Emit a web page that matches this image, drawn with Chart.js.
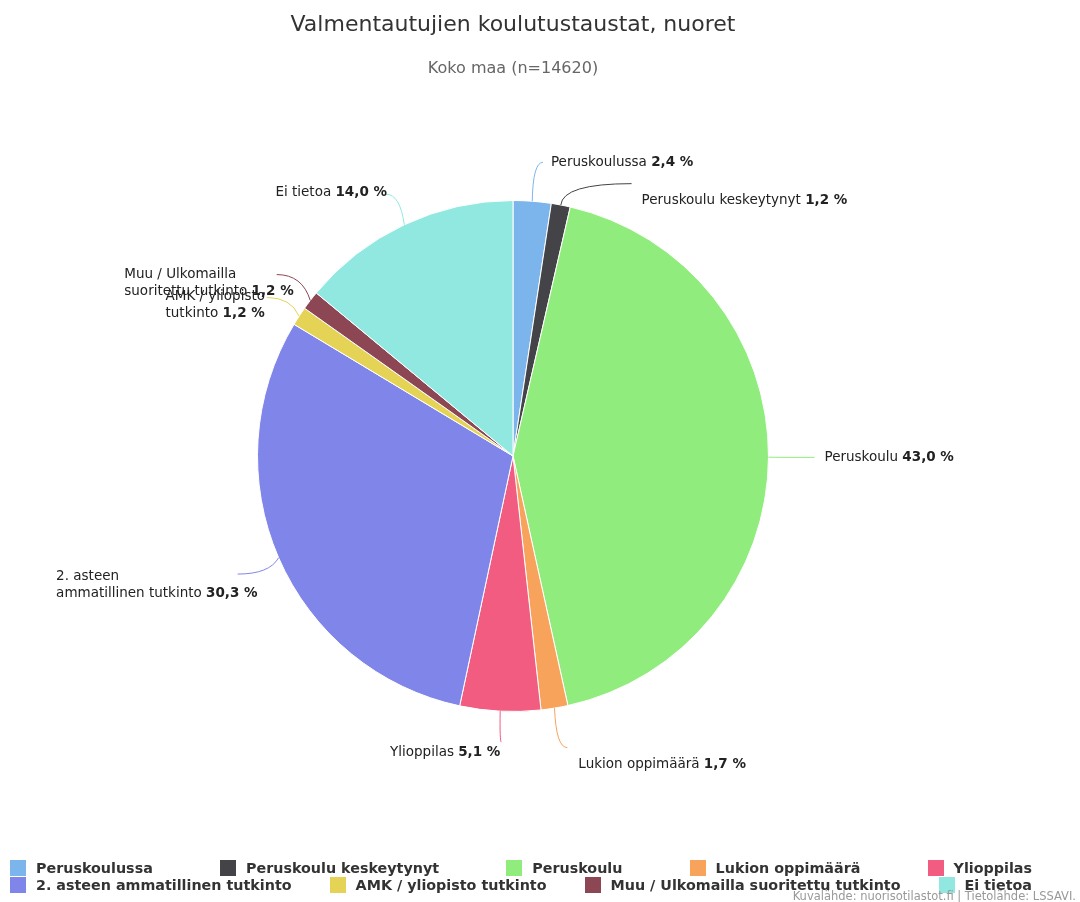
<!DOCTYPE html>
<html>
<head>
<meta charset="utf-8">
<script src="https://cdn.jsdelivr.net/npm/chart.js@4.4.1/dist/chart.umd.min.js"></script>
<style>
  body { margin: 0; background: #fff; font-family: "Lucida Grande", "DejaVu Sans", sans-serif; }
  #wrap { position: relative; width: 1080px; height: 902px; overflow: hidden; }
  #chart { position: absolute; left: 0; top: 0; }
  .title { position: absolute; left: 0; width: 1026px; text-align: center; white-space: nowrap; }
  #title { top: 11px; font-size: 22px; color: #333; }
  #subtitle { top: 58px; font-size: 16px; color: #666; }
  .legend-row { position: absolute; left: 10px; width: 1022px; display: flex; justify-content: space-between; }
  .legend-item { display: flex; align-items: center; font-size: 14.3px; font-weight: bold; color: #333; white-space: nowrap; height: 16px; }
  .legend-box { width: 16px; height: 16px; margin-right: 10px; }
  #credits { position: absolute; right: 4px; top: 889px; font-size: 11.5px; color: #999; white-space: nowrap; }
</style>
</head>
<body>
<div id="wrap">
  <canvas id="chart" width="1080" height="902"></canvas>
  <div class="title" id="title">Valmentautujien koulutustaustat, nuoret</div>
  <div class="title" id="subtitle">Koko maa (n=14620)</div>
  <div class="legend-row" id="legendRow1" style="top:860px"></div>
  <div class="legend-row" id="legendRow2" style="top:877px"></div>
  <div id="credits">Kuvalähde: nuorisotilastot.fi | Tietolähde: LSSAVI.</div>
</div>
<script>
const categories = [
  "Peruskoulussa",
  "Peruskoulu keskeytynyt",
  "Peruskoulu",
  "Lukion oppimäärä",
  "Ylioppilas",
  "2. asteen ammatillinen tutkinto",
  "AMK / yliopisto tutkinto",
  "Muu / Ulkomailla suoritettu tutkinto",
  "Ei tietoa"
];
const shares = [2.4, 1.2, 43.0, 1.7, 5.1, 30.3, 1.2, 1.2, 14.0];

const sliceColors = ["#7cb5ec", "#434348", "#90ed7d", "#f7a35c", "#f15c80",
                     "#8085e9", "#e4d354", "#8d4653", "#91e8e1"];

const FONT = '"Lucida Grande", "DejaVu Sans", sans-serif';

function fmt(v) {
  return v.toFixed(1).replace(".", ",") + " %";
}

// Legend (two rows like the original)
function buildLegend() {
  const rows = [document.getElementById("legendRow1"), document.getElementById("legendRow2")];
  categories.forEach((name, i) => {
    const item = document.createElement("div");
    item.className = "legend-item";
    const box = document.createElement("span");
    box.className = "legend-box";
    box.style.background = sliceColors[i];
    item.appendChild(box);
    item.appendChild(document.createTextNode(name));
    rows[i < 5 ? 0 : 1].appendChild(item);
  });
}

// Outside data labels with connector lines
const pieLabels = {
  id: "pieLabels",
  afterDatasetsDraw(chart, args, opts) {
    const ctx = chart.ctx;
    const meta = chart.getDatasetMeta(0);
    meta.data.forEach((arc, i) => {
      const p = arc.getProps(["x", "y", "startAngle", "endAngle", "outerRadius"], true);
      const mid = (p.startAngle + p.endAngle) / 2;
      const cos = Math.cos(mid), sin = Math.sin(mid);
      const r = p.outerRadius;
      const right = cos >= 0;
      const lay = opts.layout[i];
      const R = r + opts.distance;
      const ex = p.x + r * cos, ey = p.y + r * sin;
      const cx = p.x + (r + 10) * cos;
      const endX = p.x + R * cos + lay[0];
      const endY = p.y + R * sin + lay[1];

      ctx.save();
      ctx.strokeStyle = sliceColors[i];
      ctx.lineWidth = 1;
      ctx.beginPath();
      ctx.moveTo(ex, ey);
      ctx.quadraticCurveTo(cx, endY, endX, endY);
      ctx.stroke();

      // split name into lines
      const words = categories[i].split(" ");
      const brk = opts.wrapAfter[i];
      const lines = brk ? [words.slice(0, brk).join(" "), words.slice(brk).join(" ")] : [categories[i]];
      const value = fmt(shares[i]);
      const normal = "13.5px " + FONT;
      const bold = "bold 13.5px " + FONT;
      const widths = lines.map((ln, k) => {
        ctx.font = normal;
        let w = ctx.measureText(ln).width;
        if (k === lines.length - 1) {
          w += ctx.measureText(" ").width;
          ctx.font = bold;
          w += ctx.measureText(value).width;
        }
        return w;
      });
      const blockW = Math.max(...widths);
      const tx = endX + lay[2];
      const ty = endY + lay[3];
      const left = right ? tx : tx - blockW;

      ctx.fillStyle = "#222";
      ctx.textBaseline = "middle";
      ctx.textAlign = "left";
      lines.forEach((ln, k) => {
        const y = ty + k * 17;
        ctx.font = normal;
        ctx.fillText(ln, left, y);
        if (k === lines.length - 1) {
          const w = ctx.measureText(ln + " ").width;
          ctx.font = bold;
          ctx.fillText(value, left + w, y);
        }
      });
      ctx.restore();
    });
  }
};

buildLegend();

new Chart(document.getElementById("chart").getContext("2d"), {
  type: "pie",
  data: {
    labels: categories,
    datasets: [{
      data: shares,
      backgroundColor: sliceColors,
      borderColor: "#ffffff",
      borderWidth: 1
    }]
  },
  options: {
    responsive: false,
    animation: false,
    layout: { padding: { left: 257, right: 311, top: 200, bottom: 190 } },
    plugins: {
      legend: { display: false },
      tooltip: { enabled: false },
      pieLabels: {
        distance: 36,
        // [connector end dx, dy, text dx, dy]
        layout: [
          [8, -3, 8, 0],
          [64, 14, 10, 17],
          [10, 0, 10, 0],
          [7, 4, 11, 17],
          [3, -5, -1, 10],
          [-8, 2, 20, 2],
          [-2, 1, -2, -1],
          [-5, -4, 17, 0],
          [-3, 2, 1, -2]
        ],
        wrapAfter: { 5: 2, 6: 3, 7: 3 }
      }
    }
  },
  plugins: [pieLabels]
});
</script>
</body>
</html>
